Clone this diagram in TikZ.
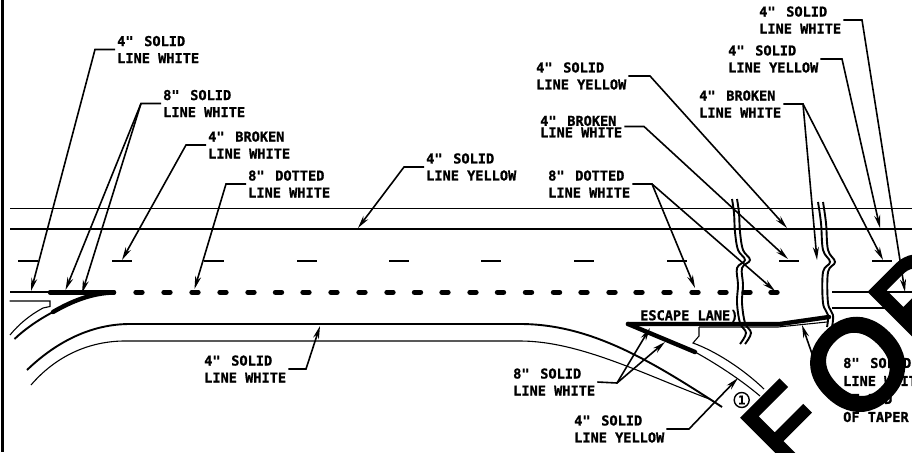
\documentclass[tikz,border=0pt]{standalone}
\usepackage{fontspec}
\setmonofont[BoldFeatures={FakeBold=1.2}]{DejaVu Sans Mono}
\newfontfamily\bigfont[FakeBold=4]{Liberation Sans}
\usetikzlibrary{arrows.meta}
\newcommand{\qq}{"\hspace{10.7pt}}
\tikzset{
 x=1pt,y=-1pt,
 lab/.style={font=\fontsize{13.6}{17}\selectfont\ttfamily\bfseries,align=left,inner xsep=2pt,inner ysep=0pt,anchor=west},
 lead/.style={line width=1.6pt,-{Stealth[length=13pt,width=6pt]}},
 thinl/.style={line width=1.1pt},
 medl/.style={line width=1.9pt},
 thickl/.style={line width=4.4pt,line cap=round},
 dotm/.style={line width=5.4pt,line cap=round},
 wave/.style={line width=1.9pt},
 bigl/.style={rotate=45,inner sep=0pt,anchor=base west}
}
\begin{document}
\begin{tikzpicture}
\useasboundingbox (0,0) rectangle (912,452);
\clip (0,0) rectangle (912,452);
\fill[white] (0,0) rectangle (912,452);
\draw[line width=2.2pt] (2.5,0) -- (2.5,452);
% road
\draw[line width=1.2pt] (10,208.5) -- (912,208.5);
\draw[medl] (10,229.3) -- (912,229.3);
\foreach \a/\b in {18/38,112/132,204/224,297/317,389/409,481/501,574/594,667/687,779/799,872/892}
  \draw[medl] (\a,260.7) -- (\b,260.7);
\draw[medl] (10,292.3) -- (50,292.3);
\draw[thickl] (50,292.3) -- (114,292.3);
\foreach \k in {139,167,195,223,251,278.5,306,334,362,390,417.5,445,473,500.5,528.5,556.5,584,612,639,667,695,723,747,774}
  \draw[dotm] (\k-3,292.3) -- (\k+3,292.3);
\draw[medl] (832,292.3) -- (912,292.3);
\draw[thinl] (832,308) -- (912,308);
% entrance curves
\draw[thickl] (114,292.5) .. controls (92,293) and (72,301) .. (53,312);
\draw[medl] (53,312) .. controls (38,320) and (25,329) .. (14.5,339);
\draw[thinl] (9.5,301) -- (50,301) -- (50,306.5) -- (43,308) .. controls (30,315) and (19,324) .. (10,335);
\draw[medl] (27,370) .. controls (55,343) and (90,324) .. (130,324) -- (520,324)
  .. controls (590,324) and (650,360) .. (722,407);
\draw[thinl] (31,385) .. controls (55,357) and (88,341) .. (125,341) -- (520,341)
  .. controls (580,341) and (645,375) .. (712,400);
% escape lane
\draw[thickl] (628,324) -- (780,324) -- (829,317);
\draw[thickl] (628,324) -- (695,352);
\draw[thinl] (695,352) .. controls (715,363) and (740,379) .. (760,396);
\draw[thinl] (699,327) -- (778,327) -- (827,322);
\draw[thinl] (699,327) -- (699,336) -- (693,343) .. controls (715,351) and (742,368) .. (764,389);
% break lines
\foreach \d in {0,5}{
 \draw[wave,xshift=\d pt] plot[smooth,tension=0.6] coordinates {(732,199)(734,213)(735,232)(738,250)(745,260)(737,268)(738,285)(737,303)(740,323)(746,333)(740,344)};
 \draw[wave,xshift=\d pt] plot[smooth,tension=0.6] coordinates {(818,202)(821,223)(823,250)(830,262)(823,272)(823,303)(828,315)(827,327)};
}
% labels
\node[lab] (a1) at (115,49.5) {4\qq SOLID\\LINE WHITE};
\node[lab] (a2) at (161,103.5) {8\qq SOLID\\LINE WHITE};
\node[lab] (a3) at (206,145) {4\qq BROKEN\\LINE WHITE};
\node[lab] (a4) at (246,184) {8\qq DOTTED\\LINE WHITE};
\node[lab] (a5) at (424,167) {4\qq SOLID\\LINE YELLOW};
\node[lab] (b1) at (534,76) {4\qq SOLID\\LINE YELLOW};
\node[lab,font=\fontsize{13.6}{11.5}\selectfont\ttfamily\bfseries] (b2) at (538,126.5) {4\qq BROKEN\\LINE WHITE};
\node[lab] (b3) at (546,184) {8\qq DOTTED\\LINE WHITE};
\node[lab] (b4) at (697,104) {4\qq BROKEN\\LINE WHITE};
\node[lab] (b5) at (726,59) {4\qq SOLID\\LINE YELLOW};
\node[lab] (b6) at (757,20) {4\qq SOLID\\LINE WHITE};
\node[lab] (c1) at (202,369) {4\qq SOLID\\LINE WHITE};
\node[lab] (c2) at (511,382) {8\qq SOLID\\LINE WHITE};
\node[lab] (c3) at (572,429) {4\qq SOLID\\LINE YELLOW};
\node[lab,font=\fontsize{13.6}{18}\selectfont\ttfamily\bfseries] (c4) at (841,390) {8\qq SOLID\\LINE WHITE\\AT END\\OF TAPER};
\node[lab] (esc) at (638,316) {ESCAPE LANE)};
\node[draw,circle,line width=1.4pt,inner sep=0pt,minimum size=15pt,font=\fontsize{12}{12}\selectfont\ttfamily\bfseries] (one) at (741.7,400) {1};
% leader coordinates
\coordinate (e1) at (95,49.5); \coordinate (t1) at (31,291);
\coordinate (e2) at (141,103.5); \coordinate (t2a) at (65.5,290); \coordinate (t2b) at (82,293);
\coordinate (e3) at (186,145); \coordinate (t3) at (122,260);
\coordinate (e4) at (226,184); \coordinate (t4) at (194.5,289);
\coordinate (e5) at (404,167); \coordinate (t5) at (358,228);
\coordinate (f1) at (650,76); \coordinate (u1) at (787,228);
\coordinate (f2) at (644,126.5); \coordinate (u2) at (788,259);
\coordinate (f3) at (652,184); \coordinate (u3a) at (695,288); \coordinate (u3b) at (775,291);
\coordinate (f4) at (803,104); \coordinate (u4a) at (817,260); \coordinate (u4b) at (883,260);
\coordinate (f5) at (842,59); \coordinate (u5) at (880,228);
\coordinate (f6) at (862,20); \coordinate (u6) at (905,292);
\coordinate (g1) at (306,369); \coordinate (v1) at (320,326);
\coordinate (g2) at (617,383); \coordinate (v2a) at (650,328); \coordinate (v2b) at (665,342);
\coordinate (g3) at (689,429); \coordinate (v3) at (738,378);
\coordinate (g4) at (818,371); \coordinate (v4) at (802,325);
% leaders
\draw[lead] (a1.west) -- (e1) -- (t1);
\draw[lead] (a2.west) -- (e2) -- (t2a);
\draw[lead] (e2) -- (t2b);
\draw[lead] (a3.west) -- (e3) -- (t3);
\draw[lead] (a4.west) -- (e4) -- (t4);
\draw[lead] (a5.west) -- (e5) -- (t5);
\draw[lead] (b1.east) -- (f1) -- (u1);
\draw[lead] (b2.east) -- (f2) -- (u2);
\draw[lead] (b3.east) -- (f3) -- (u3a);
\draw[lead] (f3) -- (u3b);
\draw[lead] (b4.east) -- (f4) -- (u4a);
\draw[lead] (f4) -- (u4b);
\draw[lead] (b5.east) -- (f5) -- (u5);
\draw[lead] (b6.east) -- (f6) -- (u6);
\draw[lead] (c1.east) -- (g1) -- (v1);
\draw[lead] (c2.east) -- (g2) -- (v2a);
\draw[lead] (g2) -- (v2b);
\draw[lead] (c3.east) -- (g3) -- (v3);
\draw[lead] (g4) -- (v4);
% large rotated letters
\node[bigl,font=\fontsize{105}{105}\selectfont\bigfont] (bigF) at (788,475) {F};
\node[bigl,font=\fontsize{125}{125}\selectfont\bigfont] (bigO) at (853.8,429.4) {O};
\node[bigl,font=\fontsize{110}{110}\selectfont\bigfont] (bigR) at (917.5,351.9) {R};
\end{tikzpicture}
\end{document}
